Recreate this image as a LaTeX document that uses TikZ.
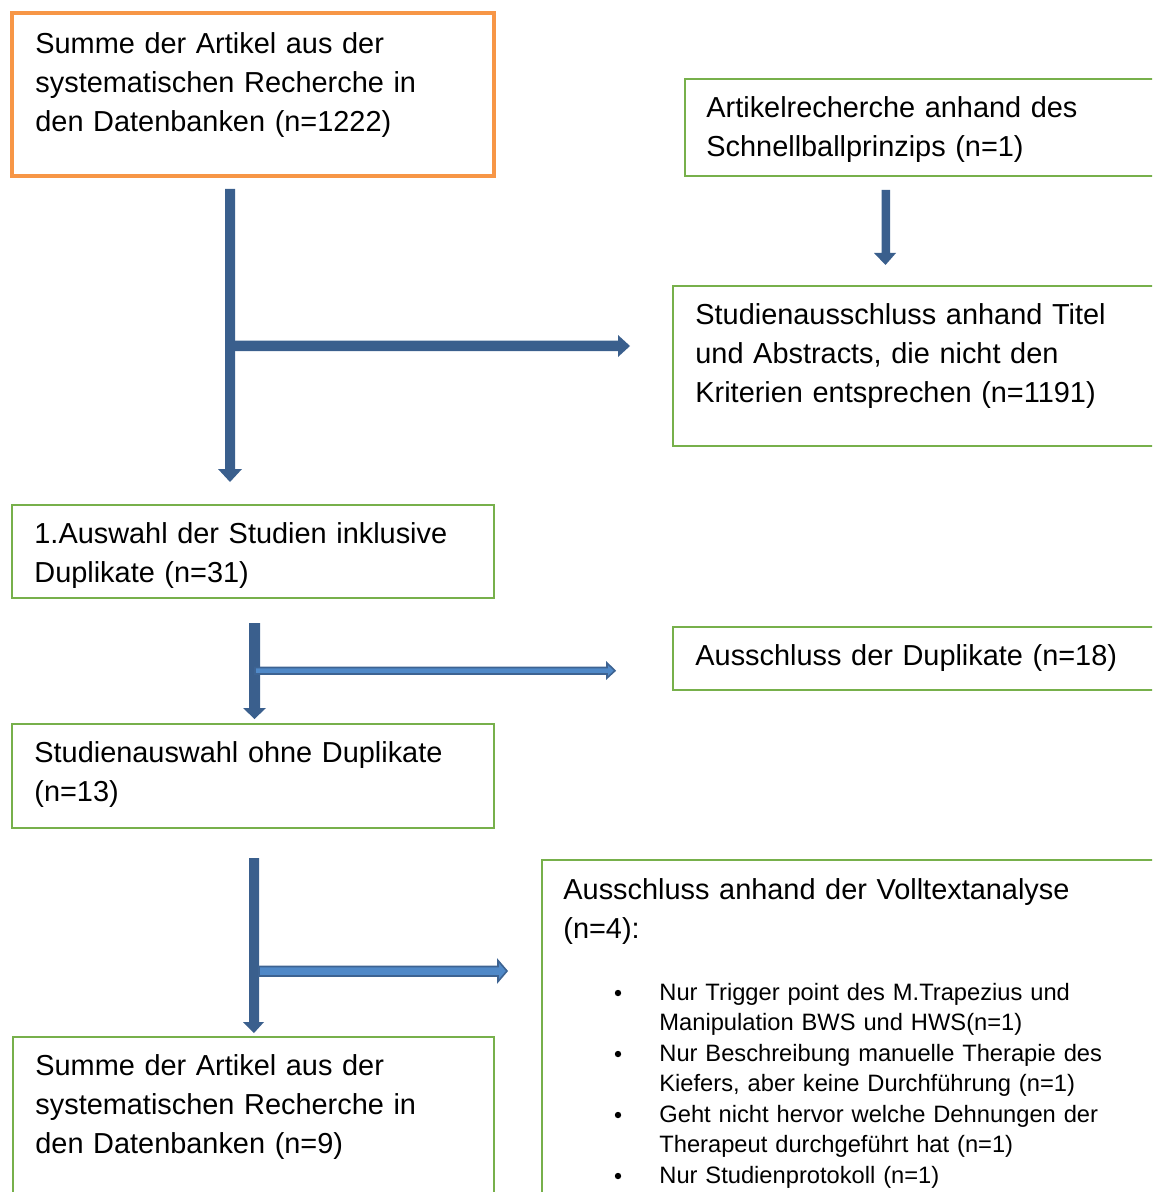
\documentclass[tikz,border=0pt]{standalone}
\usepackage{fontspec}
\setmainfont{Liberation Sans}
\definecolor{boxgreen}{HTML}{77B04B}
\definecolor{boxorange}{HTML}{F79646}
\definecolor{arrdark}{HTML}{3A5F8D}
\definecolor{arrlight}{HTML}{5089C8}
\definecolor{arredge}{HTML}{3D6392}
\begin{document}
\begin{tikzpicture}[x=0.5pt,y=-0.5pt,
  gbox/.style={draw=boxgreen,line width=1.2pt},
  obox/.style={draw=boxorange,line width=2pt},
  bigtxt/.style={anchor=base west,inner sep=0pt,text width=300pt,align=left,
    font=\fontsize{14.45}{19.5}\selectfont},
  smalltxt/.style={anchor=base west,inner sep=0pt,text width=260pt,align=left,
    font=\fontsize{11.85}{15.2}\selectfont},
  bul/.style={circle,fill=black,inner sep=0pt,minimum size=3.2pt},
  darrow/.style={fill=arrdark},
  larrow/.style={fill=arrlight,draw=arredge,line width=0.8pt}]
\useasboundingbox (0,0) rectangle (1152,1192);
\clip (0,0) rectangle (1152,1192);
% boxes
\draw[obox] (12,13) rectangle (494,176);
\draw[gbox] (685,79) rectangle (1170,176);
\draw[gbox] (673,286) rectangle (1170,446);
\draw[gbox] (12,505) rectangle (494,598);
\draw[gbox] (673,627) rectangle (1170,690);
\draw[gbox] (12,724) rectangle (494,828);
\draw[gbox] (542,860) rectangle (1170,1210);
\draw[gbox] (13,1037) rectangle (494,1210);
% texts
\node[bigtxt] (t1) at (35,54) {Summe der Artikel aus der\\systematischen Recherche in\\den Datenbanken (n=1222)};
\node[bigtxt] (t2) at (706,118) {Artikelrecherche anhand des\\Schnellballprinzips (n=1)};
\node[bigtxt] (t3) at (695,324) {Studienausschluss anhand Titel\\und Abstracts, die nicht den\\Kriterien entsprechen (n=1191)};
\node[bigtxt] (t4) at (34,543) {1.Auswahl der Studien inklusive\\Duplikate (n=31)};
\node[bigtxt] (t5) at (695,665) {Ausschluss der Duplikate (n=18)};
\node[bigtxt] (t6) at (34,762) {Studienauswahl ohne Duplikate\\(n=13)};
\node[bigtxt] (t7) at (563,899) {Ausschluss anhand der Volltextanalyse\\(n=4):};
\node[bigtxt] (t8) at (35,1075) {Summe der Artikel aus der\\systematischen Recherche in\\den Datenbanken (n=9)};
% bullet list
\node[smalltxt] (l1) at (659,1000) {Nur Trigger point des M.Trapezius und\\Manipulation BWS und HWS(n=1)};
\node[smalltxt] (l2) at (659,1061) {Nur Beschreibung manuelle Therapie des\\Kiefers, aber keine Durchführung (n=1)};
\node[smalltxt] (l3) at (659,1122) {Geht nicht hervor welche Dehnungen der\\Therapeut durchgeführt hat (n=1)};
\node[smalltxt] (l4) at (659,1183) {Nur Studienprotokoll (n=1)};
\node[bul] (b1) at (618,993) {};
\node[bul] (b2) at (618,1054) {};
\node[bul] (b3) at (618,1115) {};
\node[bul] (b4) at (618,1176) {};
% arrows
\fill[darrow] (225,189) -- (235,189) -- (235,469) -- (242,469) -- (230,482) -- (218,469) -- (225,469) -- cycle;
\fill[darrow] (234,340.5) -- (618,340.5) -- (618,335) -- (630,346) -- (618,357) -- (618,351) -- (234,351) -- cycle;
\fill[darrow] (881.5,190) -- (890,190) -- (890,253) -- (896,253) -- (885.5,265) -- (874,253) -- (881.5,253) -- cycle;
\fill[darrow] (249,623) -- (260,623) -- (260,708) -- (266,708) -- (254.5,719) -- (243,708) -- (249,708) -- cycle;
\filldraw[larrow] (255,667.5) -- (607,667.5) -- (607,663) -- (615,670.7) -- (607,678) -- (607,674) -- (255,674) -- cycle;
\fill[darrow] (249,858) -- (259,858) -- (259,1022) -- (264,1022) -- (254,1033) -- (243,1022) -- (249,1022) -- cycle;
\filldraw[larrow] (259,966.5) -- (498,966.5) -- (498,960.5) -- (507,971) -- (498,981.5) -- (498,976) -- (259,976) -- cycle;
\end{tikzpicture}
\end{document}
